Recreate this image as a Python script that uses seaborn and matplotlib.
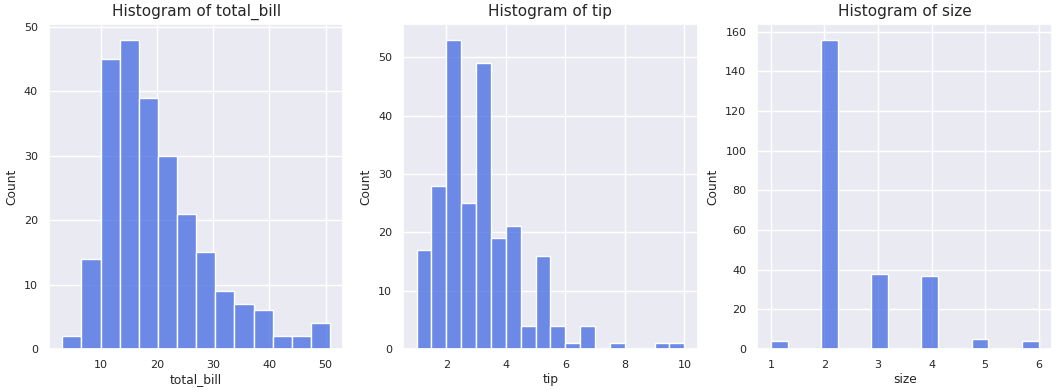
import numpy as np
import pandas as pd
import matplotlib
matplotlib.use("Agg")
import matplotlib.pyplot as plt
import seaborn as sns

# Bin counts
total_bill_counts = [2, 14, 45, 48, 39, 30, 21, 15, 9, 7, 6, 2, 2, 4]
total_bill_range = (3.07, 50.81)

tip_counts = [17, 28, 53, 25, 49, 19, 21, 4, 16, 4, 1, 4, 0, 1, 0, 0, 1, 1]
tip_range = (1.0, 10.0)

size_counts = [4, 0, 0, 156, 0, 0, 38, 0, 0, 37, 0, 0, 5, 0, 0, 4]
size_range = (1.0, 6.0)

variables = ["total_bill", "tip", "size"]
counts = [total_bill_counts, tip_counts, size_counts]
ranges = [total_bill_range, tip_range, size_range]

sns.set_theme(style="darkgrid")
plt.rcParams['font.family'] = ['DejaVu Sans']

DPI = 100
fig, axes = plt.subplots(1, 3, figsize=(1058 / DPI, 390 / DPI), dpi=DPI)
fig.subplots_adjust(left=0.0463, right=0.9943, bottom=0.105, top=0.938, wspace=0.203)

for ax, var, cnt, rng in zip(axes, variables, counts, ranges):
    n = len(cnt)
    edges = np.linspace(rng[0], rng[1], n + 1)
    centers = (edges[:-1] + edges[1:]) / 2
    df = pd.DataFrame({var: centers, "w": cnt})
    sns.histplot(data=df, x=var, weights="w", bins=n, binrange=rng,
                 color="royalblue", ax=ax)
    ax.set_title(f"Histogram of {var}", fontsize=11)
    ax.set_xlabel(var, fontsize=8.8, labelpad=2)
    ax.set_ylabel("Count", fontsize=8.8, labelpad=4)
    ax.tick_params(labelsize=8, pad=2)

fig.savefig("out.png", dpi=DPI)
